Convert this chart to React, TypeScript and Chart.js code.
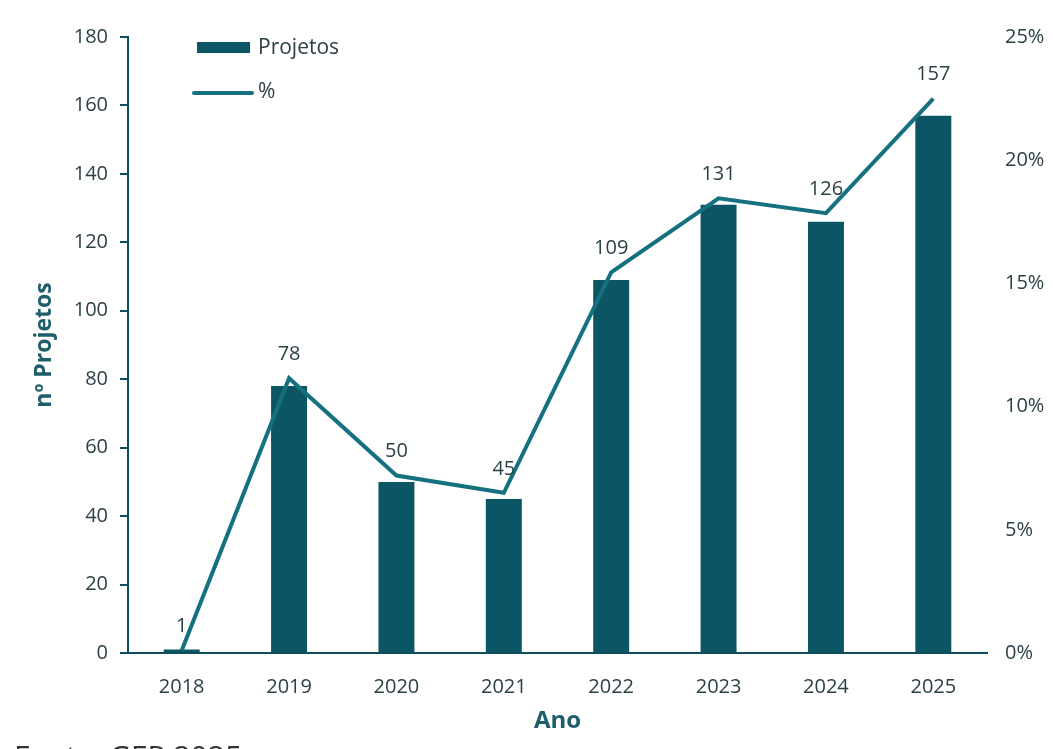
import React, { useEffect, useRef } from "react";
import { Chart, registerables } from "chart.js";

Chart.register(...registerables);

const years = ["2018", "2019", "2020", "2021", "2022", "2023", "2024", "2025"];
const projetos = [1, 78, 50, 45, 109, 131, 126, 157];
const percent = [0.1, 11.15, 7.2, 6.5, 15.45, 18.45, 17.85, 22.5];
const leftTicks = [0, 20, 40, 60, 80, 100, 120, 140, 160, 180];
const rightTicks = [0, 5, 10, 15, 20, 25];

const BAR = "#0b5564";
const LINE = "#15717f";
const AXIS = "#0d4f5c";
const TEXT = "#2c4146";
const TITLE = "#1d5e6a";
const FONT = "'Open Sans', 'Noto Sans', sans-serif";

const overlay = {
  id: "overlay",
  afterDatasetsDraw(chart: any) {
    const ctx = chart.ctx;
    const meta = chart.getDatasetMeta(1);
    ctx.save();
    ctx.fillStyle = TEXT;
    ctx.font = `20px ${FONT}`;
    ctx.textAlign = "center";
    ctx.textBaseline = "middle";
    meta.data.forEach((pt: any, i: number) => {
      ctx.fillText(String(projetos[i]), pt.x, pt.y - 24);
    });
    // legend
    ctx.fillStyle = BAR;
    ctx.fillRect(197, 42, 53, 11);
    ctx.strokeStyle = LINE;
    ctx.lineWidth = 4;
    ctx.lineCap = "round";
    ctx.beginPath();
    ctx.moveTo(194, 93);
    ctx.lineTo(252, 93);
    ctx.stroke();
    ctx.fillStyle = TEXT;
    ctx.textAlign = "left";
    ctx.font = `21px ${FONT}`;
    ctx.fillText("Projetos", 258, 48);
    ctx.fillText("%", 258, 92);
    // source
    ctx.font = `30px ${FONT}`;
    ctx.textBaseline = "alphabetic";
    ctx.fillStyle = "#333";
    ctx.fillText("Fonte: GEP 2025", 14, 767);
    ctx.restore();
  },
};

export default function App() {
  const ref = useRef<HTMLCanvasElement>(null);
  useEffect(() => {
    document.body.style.margin = "0";
    const chart = new Chart(ref.current!, {
      type: "bar",
      data: {
        labels: years,
        datasets: [
          {
            type: "bar",
            label: "Projetos",
            data: projetos,
            backgroundColor: BAR,
            yAxisID: "y",
            barPercentage: 0.335,
            categoryPercentage: 1,
            order: 2,
          },
          {
            type: "line",
            label: "%",
            data: percent,
            borderColor: LINE,
            backgroundColor: LINE,
            borderWidth: 4,
            pointRadius: 0,
            tension: 0,
            yAxisID: "y1",
            order: 1,
          } as any,
        ],
      },
      options: {
        responsive: false,
        animation: false,
        layout: { padding: { top: 37, left: 0, right: 0, bottom: 0 } },
        plugins: { legend: { display: false }, tooltip: { enabled: false } },
        scales: {
          x: {
            grid: { display: false, drawTicks: false },
            border: { display: true, color: AXIS, width: 2 },
            ticks: { color: TEXT, font: { size: 20, family: FONT }, padding: 22 },
            title: {
              display: true,
              text: "Ano",
              color: TITLE,
              font: { size: 24, weight: "bold", family: FONT },
              padding: { top: 0, bottom: 13 },
            },
            afterFit: (s: any) => {
              s.height = 96;
            },
          },
          y: {
            position: "left",
            min: 0,
            max: 180,
            afterBuildTicks: (s: any) => {
              s.ticks = leftTicks.map((v) => ({ value: v }));
            },
            grid: { drawOnChartArea: false, drawTicks: true, tickLength: 8, color: AXIS, lineWidth: 2 },
            border: { display: true, color: AXIS, width: 2 },
            ticks: { color: TEXT, font: { size: 20, family: FONT }, padding: 12 },
            title: {
              display: true,
              text: "nº Projetos",
              color: TITLE,
              font: { size: 23, weight: "bold", family: FONT },
              padding: { top: 31, bottom: 0 },
            },
            afterFit: (s: any) => {
              s.width = 128;
            },
          },
          y1: {
            position: "right",
            min: 0,
            max: 25,
            afterBuildTicks: (s: any) => {
              s.ticks = rightTicks.map((v) => ({ value: v }));
            },
            grid: { display: false, drawTicks: false },
            border: { display: false },
            ticks: {
              color: TEXT,
              font: { size: 20, family: FONT },
              padding: 18,
              callback: (v: any) => `${v}%`,
            },
            afterFit: (s: any) => {
              s.width = 66;
            },
          },
        },
      },
      plugins: [overlay],
    });
    return () => chart.destroy();
  }, []);
  return (
    <div style={{ position: "absolute", left: 0, top: 0, width: 1053, height: 749, background: "#fff" }}>
      <canvas ref={ref} width={1053} height={749} />
    </div>
  );
}
